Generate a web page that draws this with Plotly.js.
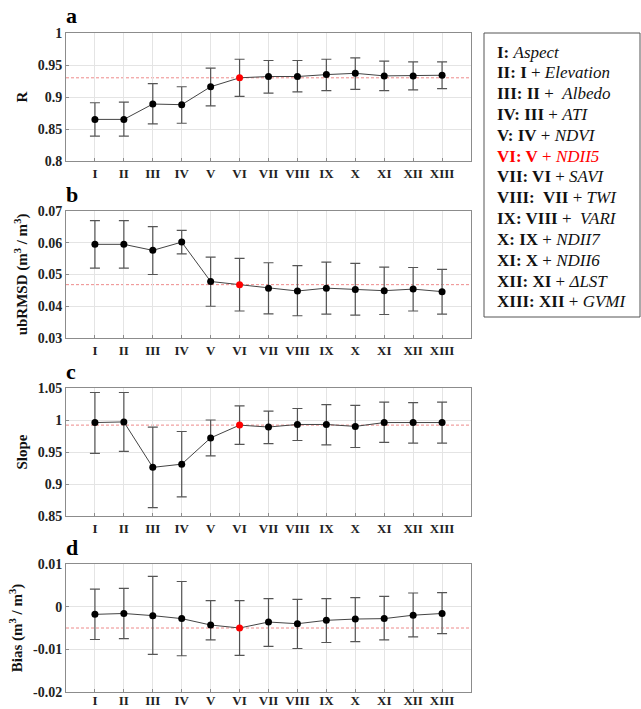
<!DOCTYPE html>
<html><head><meta charset="utf-8">
<script src="https://cdn.plot.ly/plotly-3.0.1.min.js"></script>
<style>html,body{margin:0;padding:0;background:#fff}#chart{width:641px;height:709px}</style>
</head><body><div id="chart"></div>
<script>
// ---- data ----
const categories = ['I','II','III','IV','V','VI','VII','VIII','IX','X','XI','XII','XIII'];

const rMean  = [0.865,0.865,0.889,0.888,0.916,0.930,0.932,0.932,0.935,0.937,0.933,0.933,0.934];
const rUpper = [0.891,0.892,0.921,0.916,0.945,0.959,0.957,0.957,0.959,0.961,0.956,0.955,0.955];
const rLower = [0.839,0.839,0.858,0.859,0.886,0.901,0.906,0.908,0.910,0.912,0.910,0.911,0.913];

const ubMean  = [0.0595,0.0595,0.0576,0.0602,0.0478,0.0468,0.0457,0.0448,0.0457,0.0453,0.0449,0.0454,0.0446];
const ubUpper = [0.0670,0.0670,0.0651,0.0639,0.0555,0.0551,0.0537,0.0528,0.0539,0.0535,0.0523,0.0522,0.0516];
const ubLower = [0.0520,0.0520,0.0500,0.0565,0.0400,0.0385,0.0376,0.0370,0.0375,0.0372,0.0374,0.0385,0.0375];

const slMean  = [0.996,0.997,0.926,0.931,0.972,0.992,0.989,0.993,0.993,0.990,0.996,0.996,0.996];
const slUpper = [1.043,1.043,0.989,0.982,1.000,1.022,1.014,1.018,1.024,1.023,1.028,1.027,1.028];
const slLower = [0.948,0.951,0.863,0.880,0.944,0.962,0.963,0.968,0.961,0.957,0.965,0.964,0.964];

const biMean  = [-0.0018,-0.0016,-0.0021,-0.0028,-0.0043,-0.0050,-0.0036,-0.0040,-0.0032,-0.0029,-0.0028,-0.0020,-0.0016];
const biUpper = [0.0041,0.0043,0.0071,0.0059,0.0014,0.0014,0.0019,0.0017,0.0019,0.0021,0.0024,0.0032,0.0033];
const biLower = [-0.0077,-0.0075,-0.0112,-0.0115,-0.0078,-0.0114,-0.0093,-0.0098,-0.0084,-0.0082,-0.0078,-0.0071,-0.0063];

const yTickValsD = [-0.02,-0.01,0,0.01];
const yTickTextD = ['-0.02','-0.01','0','0.01'];

const selected = 'VI';
const legendLines = [
  ['I:', '', 'Aspect'],
  ['II: I', '', 'Elevation'],
  ['III: II', ' ', 'Albedo'],
  ['IV: III', '', 'ATI'],
  ['V: IV', '', 'NDVI'],
  ['VI: V', '', 'NDII5'],
  ['VII: VI', '', 'SAVI'],
  ['VIII:  VII', '', 'TWI'],
  ['IX: VIII', ' ', 'VARI'],
  ['X: IX', '', 'NDII7'],
  ['XI: X', '', 'NDII6'],
  ['XII: XI', '', 'ΔLST'],
  ['XIII: XII', '', 'GVMI']
];

// ---- layout helpers ----
const W = 641, H = 709;
const px = x => x / W;
const py = y => 1 - y / H;
const serif = '"Liberation Serif", serif';
const red = '#ff0000';

const panels = [
  {mean:rMean, up:rUpper, lo:rLower, range:[0.8,1], dtick:0.05, title:'R', top:33, bot:161, letter:'a', lblOff:0},
  {mean:ubMean, up:ubUpper, lo:ubLower, range:[0.03,0.07], dtick:0.01, title:'ubRMSD (m<sup>3</sup> / m<sup>3</sup>)', top:211, bot:338, letter:'b', lblOff:0},
  {mean:slMean, up:slUpper, lo:slLower, range:[0.85,1.05], dtick:0.05, title:'Slope', top:388, bot:516, letter:'c', lblOff:0},
  {mean:biMean, up:biUpper, lo:biLower, range:[-0.02,0.01], tickvals:yTickValsD, ticktext:yTickTextD, title:'Bias (m<sup>3</sup> / m<sup>3</sup>)', top:564, bot:692, letter:'d', lblOff:-4}
];

const xL = 66, xR = 471;
const traces = [];
const layout = {
  width: W, height: H,
  margin: {l:0, r:0, t:0, b:0},
  paper_bgcolor: '#fff', plot_bgcolor: '#fff',
  showlegend: false,
  font: {family: serif, size: 14, color: '#111'},
  shapes: [], annotations: []
};

panels.forEach((p, i) => {
  const n = i === 0 ? '' : String(i + 1);
  const xa = 'x' + n, ya = 'y' + n;
  traces.push({
    type: 'scatter', mode: 'lines+markers',
    x: categories, y: p.mean, xaxis: xa, yaxis: ya,
    line: {color: '#444', width: 1},
    marker: {size: 7, color: categories.map(c => c === selected ? red : '#000')},
    error_y: {type: 'data', symmetric: false,
      array: p.up.map((u, k) => u - p.mean[k]),
      arrayminus: p.mean.map((m, k) => m - p.lo[k]),
      color: '#555', thickness: 1.2, width: 5}
  });
  layout['xaxis' + n] = {
    domain: [px(xL), px(xR)], anchor: ya, type: 'category',
    range: [-1, 13], showgrid: true, gridcolor: '#e4e4e4', gridwidth: 1,
    showline: true, linecolor: '#8c8c8c', linewidth: 1, mirror: true,
    ticks: 'inside', ticklen: 3, tickcolor: '#8c8c8c',
    tickfont: {family: serif, size: 13, color: '#222', weight: 'bold'},
    ticklabelstandoff: p.lblOff,
    zeroline: false, fixedrange: true
  };
  const yax = {
    domain: [py(p.bot), py(p.top)], anchor: xa, range: p.range,
    showgrid: true, gridcolor: '#e4e4e4', gridwidth: 1,
    showline: true, linecolor: '#8c8c8c', linewidth: 1, mirror: true,
    ticks: 'inside', ticklen: 3, tickcolor: '#8c8c8c',
    tickfont: {family: serif, size: 14, color: '#222', weight: 'bold'},
    zeroline: false, fixedrange: true,
    title: {text: p.title, font: {family: serif, size: 15, color: '#111', weight: 'bold'}, standoff: 6}
  };
  if (p.tickvals) { yax.tickmode = 'array'; yax.tickvals = p.tickvals; yax.ticktext = p.ticktext; }
  else { yax.dtick = p.dtick; yax.tick0 = 0; }
  layout['yaxis' + n] = yax;
  const refVal = p.mean[categories.indexOf(selected)];
  layout.shapes.push({type: 'line', xref: 'paper', yref: ya, x0: px(xL), x1: px(xR), y0: refVal, y1: refVal,
    line: {color: '#ee8a8a', width: 1, dash: '3px,2px'}, layer: 'below'});
  layout.annotations.push({xref: 'paper', yref: 'paper', x: px(64), y: py(p.top - 17),
    xanchor: 'left', yanchor: 'middle', showarrow: false, text: '<b>' + p.letter + '</b>',
    font: {family: serif, size: 22, color: '#000'}});
});

// legend box
layout.shapes.push({type: 'rect', xref: 'paper', yref: 'paper', x0: px(484), x1: px(640), y0: py(317), y1: py(33),
  line: {color: '#555', width: 1}, fillcolor: 'rgba(0,0,0,0)'});
legendLines.forEach((ln, k) => {
  const isSel = ln[0].startsWith(selected + ':');
  const col = isSel ? red : '#111';
  const txt = k === 0
    ? '<b>' + ln[0] + '</b> <i>' + ln[2] + '</i>'
    : '<b>' + ln[0] + '</b> +' + ln[1] + ' <i>' + ln[2] + '</i>';
  layout.annotations.push({xref: 'paper', yref: 'paper', x: px(495), y: py(52 + k * 20.83),
    xanchor: 'left', yanchor: 'middle', showarrow: false, align: 'left',
    text: txt, font: {family: serif, size: 17, color: col}});
});

Plotly.newPlot('chart', traces, layout, {staticPlot: true, displayModeBar: false});
</script></body></html>
